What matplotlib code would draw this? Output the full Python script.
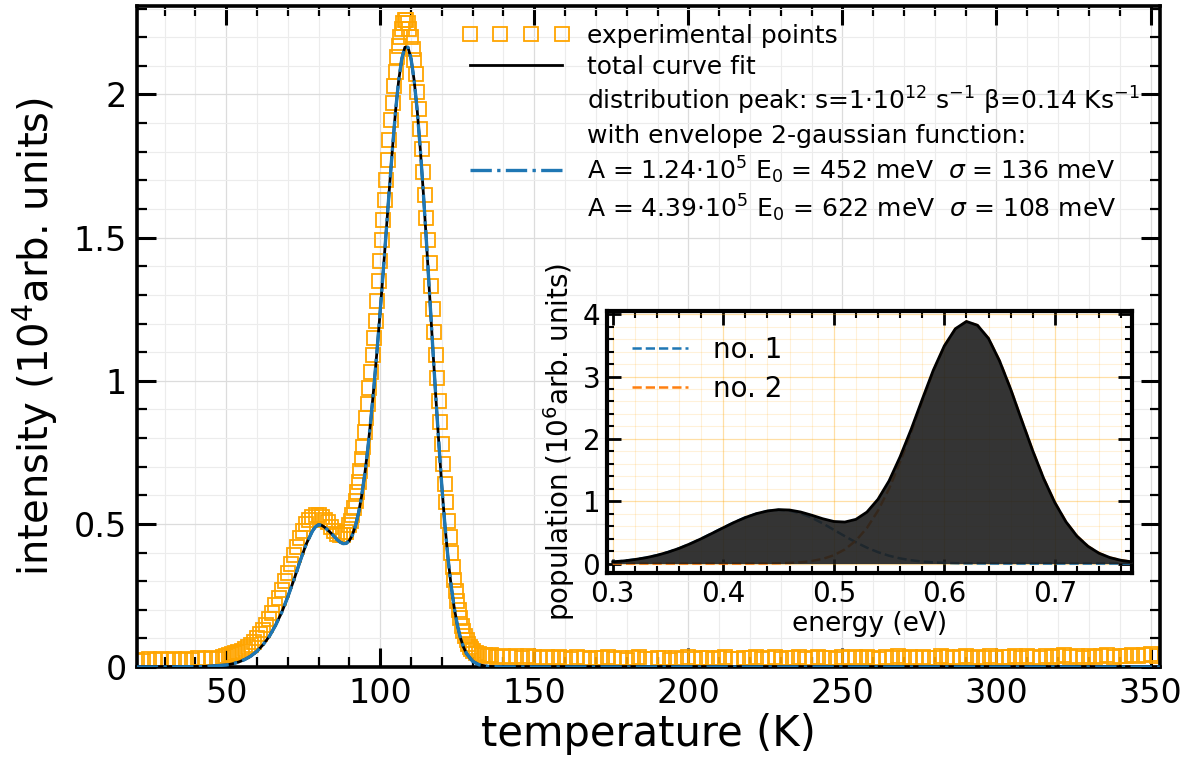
import numpy as np
import matplotlib
matplotlib.use("Agg")
import matplotlib.pyplot as plt
from matplotlib.ticker import AutoMinorLocator, FuncFormatter, MultipleLocator
from matplotlib.lines import Line2D

# ---------------- data ----------------
# experimental points (temperature K, intensity 1e4 arb. units)
exp_temp_low = np.arange(21, 50, 2)
exp_int_low = [0.026, 0.022, 0.028, 0.024, 0.027, 0.023, 0.029, 0.025, 0.028, 0.024,
               0.030, 0.027, 0.031, 0.029, 0.034]

exp_temp_rise = np.arange(50, 91, 1)
exp_int_rise = [0.04, 0.042, 0.045, 0.048, 0.052, 0.057, 0.063, 0.07, 0.078, 0.088,
                0.1, 0.114, 0.13, 0.148, 0.168, 0.19, 0.215, 0.242, 0.27, 0.3,
                0.33, 0.36, 0.39, 0.42, 0.45, 0.475, 0.5, 0.515, 0.525, 0.53,
                0.53, 0.525, 0.515, 0.505, 0.49, 0.475, 0.465, 0.46, 0.46, 0.47,
                0.495]

exp_temp_peak = np.arange(90.5, 130.01, 0.5)
exp_int_peak = [0.51, 0.53, 0.555, 0.58, 0.61, 0.645, 0.685, 0.725, 0.77, 0.82,
                0.87, 0.92, 0.975, 1.03, 1.09, 1.15, 1.21, 1.28, 1.35, 1.42,
                1.49, 1.56, 1.63, 1.7, 1.77, 1.84, 1.91, 1.97, 2.03, 2.08,
                2.13, 2.17, 2.2, 2.23, 2.25, 2.26, 2.26, 2.25, 2.23, 2.2,
                2.16, 2.12, 2.07, 2.01, 1.95, 1.88, 1.81, 1.73, 1.65, 1.57,
                1.49, 1.41, 1.33, 1.25, 1.17, 1.09, 1.01, 0.93, 0.855, 0.78,
                0.71, 0.64, 0.575, 0.51, 0.455, 0.4, 0.35, 0.305, 0.265, 0.23,
                0.2, 0.17, 0.145, 0.125, 0.108, 0.093, 0.08, 0.07, 0.062, 0.056]

exp_temp_mid = [131, 132, 133, 134, 135]
exp_int_mid = [0.05, 0.046, 0.043, 0.041, 0.04]

exp_temp_high = np.arange(136, 353, 2)
exp_int_high = [0.041, 0.036, 0.040, 0.034, 0.039, 0.033, 0.037, 0.035, 0.031, 0.036,
                0.030, 0.035, 0.032, 0.029, 0.034, 0.031, 0.027, 0.033, 0.030, 0.035,
                0.028, 0.032, 0.026, 0.031, 0.034, 0.029, 0.027, 0.033, 0.030, 0.026,
                0.032, 0.029, 0.034, 0.027, 0.031, 0.033, 0.028, 0.030, 0.035, 0.029,
                0.027, 0.032, 0.030, 0.034, 0.028, 0.031, 0.035, 0.029, 0.033, 0.030,
                0.034, 0.028, 0.032, 0.036, 0.030, 0.033, 0.029, 0.035, 0.031, 0.034,
                0.030, 0.036, 0.032, 0.029, 0.035, 0.033, 0.037, 0.031, 0.034, 0.030,
                0.036, 0.033, 0.031, 0.037, 0.034, 0.030, 0.036, 0.038, 0.032, 0.035,
                0.033, 0.038, 0.031, 0.036, 0.034, 0.039, 0.032, 0.037, 0.035, 0.033,
                0.039, 0.034, 0.037, 0.041, 0.035, 0.038, 0.033, 0.040, 0.036, 0.039,
                0.042, 0.036, 0.040, 0.038, 0.043, 0.037, 0.041, 0.044, 0.039]

# total curve fit (= distribution peak curve)
fit_temp = [21, 30, 40, 45, 50,
            52, 54, 56, 58, 60, 62, 64, 66, 68, 70, 72, 74, 76, 78,
            79, 80, 81, 82, 84, 86,
            87, 88, 89, 90, 91, 92, 93, 94, 95, 96,
            97, 98, 99, 100, 101, 102, 103, 104, 105, 106,
            107, 108, 109, 110, 111, 112, 113, 114, 115, 116,
            117, 118, 119, 120, 121, 122, 123, 124, 125, 126,
            127, 128, 130, 132, 135, 140, 150, 200, 250, 300, 353]
fit_int = [0.0, 0.0, 0.001, 0.003, 0.007,
           0.011, 0.017, 0.026, 0.038, 0.055, 0.078, 0.107, 0.145, 0.19, 0.245, 0.305, 0.37, 0.43, 0.475,
           0.49, 0.497, 0.495, 0.488, 0.468, 0.445,
           0.436, 0.431, 0.432, 0.442, 0.462, 0.495, 0.54, 0.6, 0.675, 0.765,
           0.87, 0.985, 1.11, 1.245, 1.385, 1.53, 1.675, 1.815, 1.945, 2.05,
           2.125, 2.165, 2.165, 2.125, 2.05, 1.945, 1.81, 1.655, 1.485, 1.305,
           1.125, 0.95, 0.785, 0.63, 0.495, 0.38, 0.285, 0.208, 0.148, 0.103,
           0.07, 0.047, 0.02, 0.008, 0.002, 0.0, 0.0, 0.0, 0.0, 0.0, 0.0]

# inset: energy distribution (eV, 1e6 arb. units)
energy = np.round(np.arange(0.30, 0.7701, 0.01), 2)
pop_no1 = [0.028, 0.043, 0.065, 0.094, 0.133, 0.183, 0.244, 0.317, 0.398, 0.486,
           0.575, 0.662, 0.739, 0.800, 0.842, 0.860, 0.849, 0.806, 0.735, 0.644,
           0.542, 0.439, 0.341, 0.255, 0.183, 0.126, 0.083, 0.053, 0.032, 0.019,
           0.011, 0.006, 0.003, 0.002, 0.001, 0.0, 0.0, 0.0, 0.0, 0.0,
           0.0, 0.0, 0.0, 0.0, 0.0, 0.0, 0.0, 0.0]
pop_no2 = [0.0, 0.0, 0.0, 0.0, 0.0, 0.0, 0.0, 0.0, 0.0, 0.0,
           0.0, 0.0, 0.0, 0.001, 0.002, 0.005, 0.010, 0.021, 0.041, 0.075,
           0.133, 0.227, 0.368, 0.571, 0.848, 1.20, 1.63, 2.10, 2.60, 3.08,
           3.48, 3.76, 3.88, 3.82, 3.61, 3.25, 2.80, 2.30, 1.81, 1.36,
           0.979, 0.672, 0.441, 0.277, 0.166, 0.095, 0.052, 0.027]

legend_fit_text = [r"distribution peak: s=1$\cdot$10$^{12}$ s$^{-1}$ β=0.14 Ks$^{-1}$",
                   "with envelope 2-gaussian function:",
                   r"A = 1.24$\cdot$10$^5$ E$_0$ = 452 meV  $\sigma$ = 136 meV",
                   r"A = 4.39$\cdot$10$^5$ E$_0$ = 622 meV  $\sigma$ = 108 meV"]

# ---------------- figure ----------------
plt.rcParams['font.family'] = ['DejaVu Sans']
plt.rcParams['mathtext.fontset'] = 'dejavusans'
fig = plt.figure(figsize=(12, 7.68), dpi=100)
ax = fig.add_axes([0.114, 0.1315, 0.8525, 0.861])

orange = '#FFA500'
exp_t = np.concatenate([exp_temp_low, exp_temp_rise, exp_temp_peak, exp_temp_mid, exp_temp_high])
exp_i = np.concatenate([exp_int_low, exp_int_rise, exp_int_peak, exp_int_mid, exp_int_high])

h_exp, = ax.plot(exp_t, exp_i, linestyle='none', marker='s', markersize=10.5,
                 markerfacecolor='none', markeredgecolor=orange, markeredgewidth=1.3, zorder=2)
h_fit, = ax.plot(fit_temp, fit_int, color='black', lw=2.0, zorder=3)
h_dist, = ax.plot(fit_temp, fit_int, color='#1f77b4', lw=2.4, linestyle='-.', zorder=4)

ax.set_xlim(21, 353)
ax.set_ylim(0, 2.31)
ax.xaxis.set_major_locator(MultipleLocator(50))
ax.yaxis.set_major_locator(MultipleLocator(0.5))
ax.xaxis.set_minor_locator(AutoMinorLocator(5))
ax.yaxis.set_minor_locator(AutoMinorLocator(5))
ax.yaxis.set_major_formatter(FuncFormatter(lambda v, p: '%g' % v))
ax.grid(which='major', color='#dcdcdc', lw=0.9)
ax.grid(which='minor', color='#ececec', lw=0.8)
ax.set_axisbelow(True)
ax.tick_params(which='both', direction='in', top=True, right=True)
ax.tick_params(which='major', length=14, width=2.2, labelsize=24, pad=7)
ax.tick_params(which='minor', length=7, width=1.6)
for s in ax.spines.values():
    s.set_linewidth(2.6)
ax.set_xlabel('temperature (K)', fontsize=30, labelpad=2)
ax.set_ylabel(r'intensity (10$^4$arb. units)', fontsize=29, labelpad=10)

blank = Line2D([], [], linestyle='none')
handles = [h_exp, h_fit, blank, blank, h_dist, blank]
labels = ['experimental points', 'total curve fit'] + legend_fit_text
leg = ax.legend(handles, labels, loc='upper right', bbox_to_anchor=(0.995, 0.995),
                frameon=False, fontsize=18, numpoints=4, handlelength=4.3,
                handletextpad=0.7, labelspacing=0.26, borderaxespad=0.2)

# ---------------- inset ----------------
axi = fig.add_axes([0.506, 0.254, 0.4375, 0.341])
axi.set_facecolor('white')
tot = np.array(pop_no1) + np.array(pop_no2)
axi.plot(energy, pop_no1, linestyle='--', color='#1f77b4', lw=1.8, label='no. 1', zorder=2)
axi.plot(energy, pop_no2, linestyle='--', color='#ff7f0e', lw=1.8, label='no. 2', zorder=2)
axi.fill_between(energy, 0, tot, color='#1e1e1e', alpha=0.9, lw=0, zorder=3)
axi.plot(energy, tot, color='black', lw=2.0, zorder=4)
axi.set_xlim(0.295, 0.77)
axi.set_ylim(-0.15, 4.05)
axi.xaxis.set_major_locator(MultipleLocator(0.1))
axi.yaxis.set_major_locator(MultipleLocator(1))
axi.xaxis.set_minor_locator(AutoMinorLocator(5))
axi.yaxis.set_minor_locator(AutoMinorLocator(5))
axi.grid(which='major', color=orange, alpha=0.35, lw=0.9)
axi.grid(which='minor', color=orange, alpha=0.15, lw=0.8)
axi.set_axisbelow(True)
axi.tick_params(which='both', direction='in', top=True, right=True)
axi.tick_params(which='major', length=10, width=2.0, labelsize=20, pad=5)
axi.tick_params(which='minor', length=5, width=1.5)
for s in axi.spines.values():
    s.set_linewidth(3.0)
axi.set_xlabel('energy (eV)', fontsize=19, labelpad=2)
axi.set_ylabel(r'population (10$^6$arb. units)', fontsize=20, labelpad=4)
axi.legend(loc='upper left', frameon=False, fontsize=20, handlelength=2.0,
           handletextpad=0.9, labelspacing=0.4, borderaxespad=0.5)

fig.savefig('out.png', dpi=100)
